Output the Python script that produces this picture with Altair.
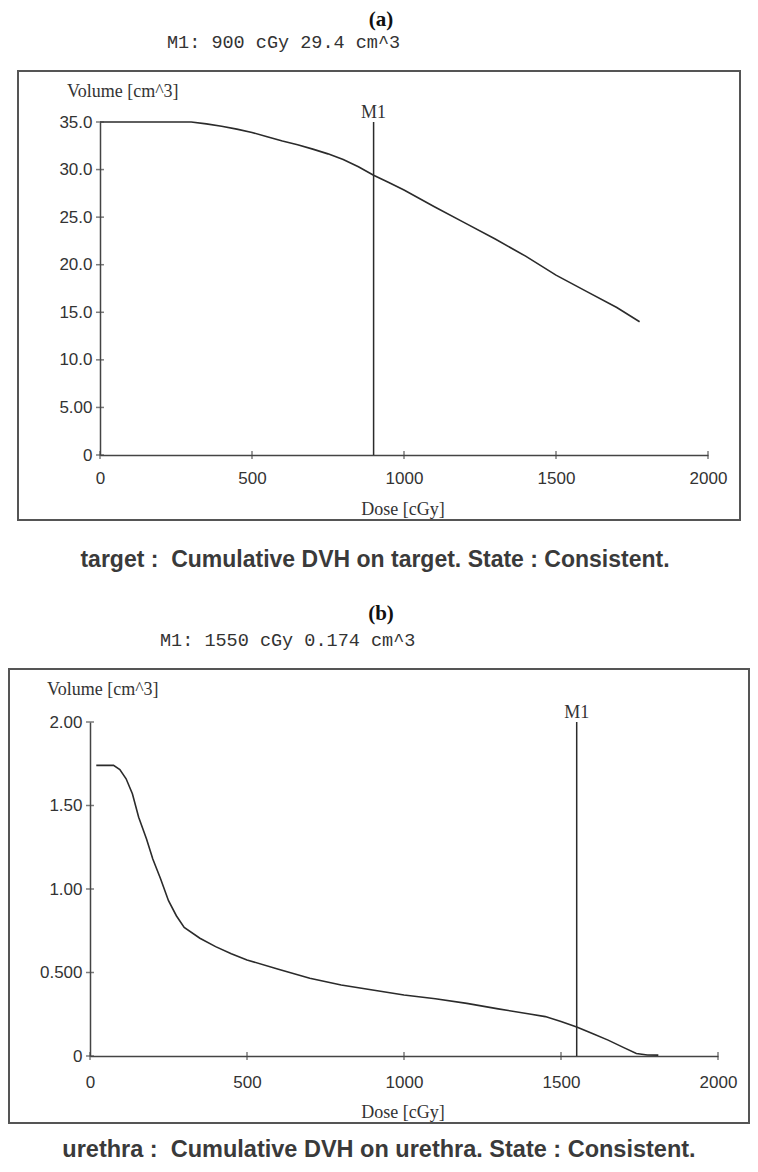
import altair as alt
import pandas as pd

# ---------------- data ----------------
DOSE_A = [0, 300, 350, 400, 450, 500, 550, 600, 650, 700, 750, 800, 850, 900,
          950, 1000, 1100, 1200, 1300, 1400, 1500, 1600, 1700, 1775]
VOL_A = [35.0, 35.0, 34.8, 34.55, 34.25, 33.9, 33.45, 33.0, 32.6, 32.15, 31.65, 31.05,
         30.3, 29.4, 28.65, 27.85, 26.1, 24.4, 22.7, 20.9, 18.9, 17.2, 15.5, 14.0]

DOSE_B = [20, 75, 95, 115, 135, 155, 180, 200, 225, 250, 275, 300, 350, 400, 450,
          500, 600, 700, 800, 900, 1000, 1100, 1200, 1300, 1400, 1450, 1500, 1550,
          1600, 1650, 1700, 1740, 1775, 1810]
VOL_B = [1.74, 1.74, 1.715, 1.66, 1.57, 1.43, 1.30, 1.18, 1.06, 0.93, 0.84, 0.77,
         0.705, 0.655, 0.612, 0.575, 0.52, 0.465, 0.425, 0.395, 0.365, 0.343, 0.315,
         0.282, 0.252, 0.236, 0.207, 0.174, 0.135, 0.095, 0.05, 0.015, 0.006, 0.005]

M1_A = 900
M1_B = 1550
X_TICKS = [0, 500, 1000, 1500, 2000]
Y_TICKS_A = [0, 5, 10, 15, 20, 25, 30, 35]
Y_LABELS_A = ["0", "5.00", "10.0", "15.0", "20.0", "25.0", "30.0", "35.0"]
Y_TICKS_B = [0, 0.5, 1.0, 1.5, 2.0]
Y_LABELS_B = ["0", "0.500", "1.00", "1.50", "2.00"]

TITLE_A = "(a)"
TITLE_B = "(b)"
MARK_A = "M1: 900 cGy 29.4 cm^3"
MARK_B = "M1: 1550 cGy 0.174 cm^3"
CAP_A = "target : \u00a0Cumulative DVH on target. State : Consistent."
CAP_B = "urethra : \u00a0Cumulative DVH on urethra. State : Consistent."
YTITLE = "Volume [cm^3]"
XTITLE = "Dose [cGy]"

INK = "#2b2b2b"
AXC = "#444444"


def label_expr(vals, labels):
    pairs = ", ".join("'%g': '%s'" % (v, l) for v, l in zip(vals, labels))
    return "{%s}[format(datum.value, '')]" % pairs


def panel(dose, vol, marker, ymax, yticks, ylabels, xrange_, yrange_, yoff, xoff, lpad):
    xs = alt.Scale(domain=[0, 2000], range=xrange_, nice=False, zero=False)
    ys = alt.Scale(domain=[0, ymax], range=yrange_, nice=False, zero=False)
    ax_x = alt.Axis(orient="bottom", offset=xoff, values=X_TICKS, format="d", title=None,
                    grid=False, ticks=False, tickSize=0, domainColor=AXC, domainWidth=1.5,
                    labelFont="Liberation Sans", labelFontSize=17, labelColor="#333",
                    labelPadding=lpad, labelBaseline="middle", labelFlush=False,
                    labelOverlap=False)
    ax_y = alt.Axis(orient="left", offset=yoff, values=yticks,
                    labelExpr=label_expr(yticks, ylabels), title=None,
                    grid=False, ticks=False, tickSize=0, domainColor=AXC, domainWidth=1.5,
                    labelFont="Liberation Sans", labelFontSize=17, labelColor="#333",
                    labelPadding=8, labelFlush=False, labelOverlap=False)
    curve = pd.DataFrame({"dose": dose, "vol": vol})
    line = alt.Chart(curve).mark_line(color=INK, strokeWidth=1.6).encode(
        x=alt.X("dose:Q", scale=xs, axis=ax_x),
        y=alt.Y("vol:Q", scale=ys, axis=ax_y),
        order="dose:Q",
    )
    mk = pd.DataFrame({"dose": [marker], "top": [ymax], "bottom": [0], "name": ["M1"]})
    rule = alt.Chart(mk).mark_rule(color=INK, strokeWidth=1.5).encode(
        x=alt.X("dose:Q", scale=xs, axis=ax_x),
        y=alt.Y("top:Q", scale=ys, axis=ax_y),
        y2="bottom:Q",
    )
    mlabel = alt.Chart(mk).mark_text(font="Liberation Serif", fontSize=18, color="#333",
                                     baseline="middle", align="center", dy=-9).encode(
        x=alt.X("dose:Q", scale=xs, axis=ax_x),
        y=alt.Y("top:Q", scale=ys, axis=ax_y),
        text="name:N",
    )
    yt = alt.Chart(pd.DataFrame({"v": yticks})).mark_tick(
        orient="horizontal", size=8, thickness=1.5, color=AXC).encode(
        y=alt.Y("v:Q", scale=ys, axis=ax_y),
        x=alt.value(xrange_[0]),
    )
    xt = alt.Chart(pd.DataFrame({"v": X_TICKS})).mark_tick(
        orient="vertical", size=8, thickness=1.5, color=AXC).encode(
        x=alt.X("v:Q", scale=xs, axis=ax_x),
        y=alt.value(yrange_[0]),
    )
    return alt.layer(line, rule, mlabel, yt, xt)


pa = panel(DOSE_A, VOL_A, M1_A, 35, Y_TICKS_A, Y_LABELS_A, [92, 700], [447, 114], -92, -709, 23)
pb = panel(DOSE_B, VOL_B, M1_B, 2, Y_TICKS_B, Y_LABELS_B, [82, 710], [1048, 714], -82, -108, 26)

one = pd.DataFrame({"k": [0]})


def txt(s, x, y, font, size, align="center", weight="normal", color="#333"):
    return alt.Chart(one).mark_text(text=s, font=font, fontSize=size, align=align,
                                    baseline="middle", fontWeight=weight, color=color).encode(
        x=alt.value(x), y=alt.value(y))


def box(x1, x2, y1, y2):
    return alt.Chart(one).mark_rect(filled=False, stroke="#555", strokeWidth=2).encode(
        x=alt.value(x1), x2=alt.value(x2), y=alt.value(y1), y2=alt.value(y2))


deco = alt.layer(
    box(10, 732, 63, 512),
    box(1, 741, 661, 1115),
    txt(TITLE_A, 373, 12, "Liberation Serif", 21, weight="bold", color="#111"),
    txt(TITLE_B, 373, 606, "Liberation Serif", 21, weight="bold", color="#111"),
    txt(MARK_A, 159, 34, "Liberation Mono", 18.5, align="left"),
    txt(MARK_B, 152, 632, "Liberation Mono", 18.5, align="left"),
    txt(YTITLE, 59, 84, "Liberation Serif", 18, align="left"),
    txt(YTITLE, 39, 682, "Liberation Serif", 18, align="left"),
    txt(XTITLE, 395, 502, "Liberation Serif", 18),
    txt(XTITLE, 395, 1105, "Liberation Serif", 18),
    txt(CAP_A, 367, 552, "Liberation Sans", 23, weight="bold", color="#3a3a3a"),
    txt(CAP_B, 371, 1142, "Liberation Sans", 23.5, weight="bold", color="#3a3a3a"),
)

chart = alt.layer(pa, pb, deco).resolve_scale(
    x="independent", y="independent"
).resolve_axis(
    x="independent", y="independent"
).properties(
    width=742, height=1156, padding=0, autosize=alt.AutoSizeParams(type="none")
).configure_view(stroke="transparent")

chart.save("out.html", embed_options={"renderer": "svg", "actions": False})
